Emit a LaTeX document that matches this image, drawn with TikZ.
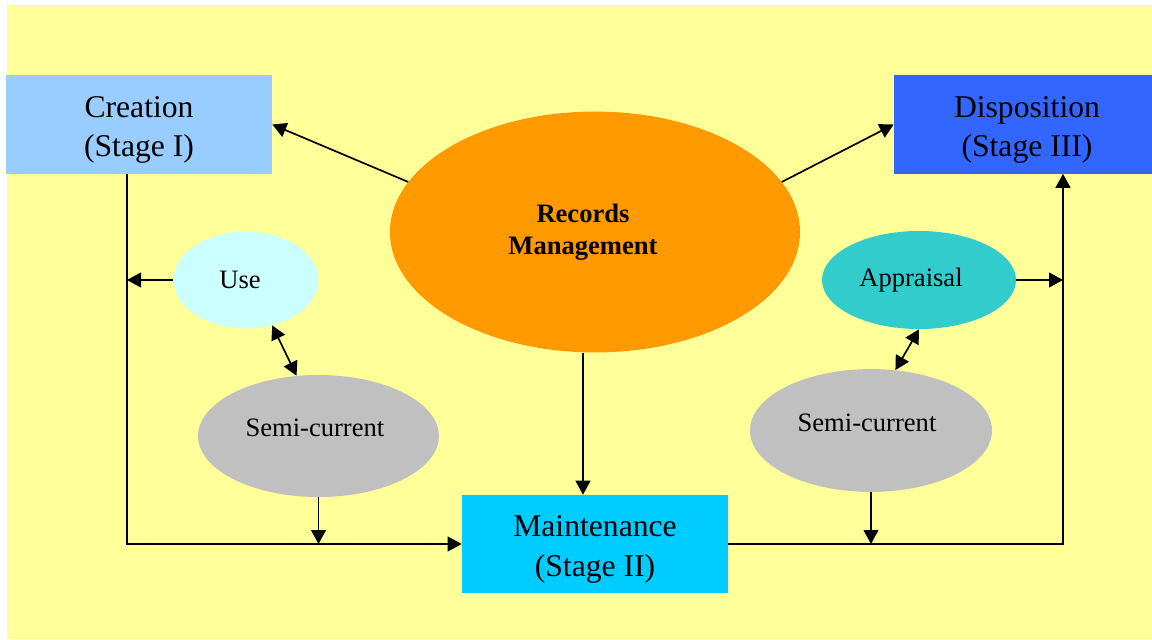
\documentclass[tikz,border=0pt]{standalone}
\usepackage{fontspec}
\setmainfont{Liberation Serif}
\usetikzlibrary{arrows.meta,shapes.geometric}

\definecolor{bgyellow}{HTML}{FFFF99}
\definecolor{creationblue}{HTML}{99CCFF}
\definecolor{dispblue}{HTML}{3366FF}
\definecolor{maintblue}{HTML}{00CCFF}
\definecolor{rmorange}{HTML}{FF9900}
\definecolor{usecyan}{HTML}{CCFFFF}
\definecolor{apprteal}{HTML}{33CCCC}
\definecolor{semigrey}{HTML}{C0C0C0}

\begin{document}
\begin{tikzpicture}[x=0.025cm, y=-0.025cm,
        stagebox/.style = {rectangle, inner sep=0pt, minimum width=6.65cm, minimum height=2.45cm,
                           align=center, font=\fontsize{22.5}{28.3}\selectfont},
        blob/.style = {ellipse, inner sep=0pt, align=center, font=\fontsize{18.9}{22.7}\selectfont},
        arr/.style = {line width=1.2pt, -{Triangle[length=0.35cm, width=0.37cm]}},
        dblarr/.style = {line width=1.2pt, {Triangle[length=0.35cm, width=0.37cm]}-{Triangle[length=0.35cm, width=0.37cm]}}]
    \useasboundingbox (0, 0) rectangle (1152, 639);
    \fill[bgyellow] (7, 5) rectangle (1152, 639);

    % the three stages
    \node[stagebox, fill=creationblue] (creation) at (139, 124.5) {\rule{0pt}{0.8cm}Creation\\(Stage I)};
    \node[stagebox, fill=dispblue] (disposition) at (1027, 124.5) {\rule{0pt}{0.8cm}Disposition\\(Stage III)};
    \node[stagebox, fill=maintblue] (maint) at (595, 544) {\rule{0pt}{0.8cm}Maintenance\\(Stage II)};

    % ellipses
    \node[blob, fill=rmorange, minimum width=10.25cm, minimum height=6.02cm, font=\bfseries\fontsize{18.9}{22.7}\selectfont] (rm) at (595, 232) {Records\hspace*{0.6cm}\\Management\hspace*{0.6cm}};
    \node[blob, fill=usecyan, minimum width=3.62cm, minimum height=2.42cm] (use) at (246, 280) {Use\hspace*{0.3cm}};
    \node[blob, fill=semigrey, minimum width=6.02cm, minimum height=3.05cm] (semil) at (318.5, 436) {Semi-current\hspace*{0.18cm}\\[-0.4cm]};
    \node[blob, fill=apprteal, minimum width=4.85cm, minimum height=2.45cm] (appraisal) at (919, 280) {Appraisal\hspace*{0.4cm}};
    \node[blob, fill=semigrey, minimum width=6.05cm, minimum height=3.07cm] (semir) at (871, 430.5) {Semi-current\hspace*{0.2cm}\\[-0.4cm]};

    \coordinate (lbus) at ([xshift=-0.3cm]creation.south);
    \coordinate (rbus) at ([xshift=0.9cm]disposition.south);

    % connectors
    \draw[arr] (rm.165) -- (creation.east);
    \draw[arr] (rm.15) -- (disposition.west);
    \draw[arr] ([xshift=-0.3cm]rm.south) -- ([xshift=-0.3cm]maint.north);
    \draw[arr] (lbus) |- (maint.west);
    \draw[arr] (use.west) -- (use.west -| lbus);
    \draw[dblarr] (use.-60) -- (semil.110);
    \draw[arr] (semil.south) -- (semil.south |- maint.west);
    \draw[arr] (maint.east) -| (rbus);
    \draw[arr] (appraisal.east) -- (appraisal.east -| rbus);
    \draw[dblarr] (appraisal.south) -- (semir.68);
    \draw[arr] (semir.south) -- (semir.south |- maint.east);
\end{tikzpicture}
\end{document}
